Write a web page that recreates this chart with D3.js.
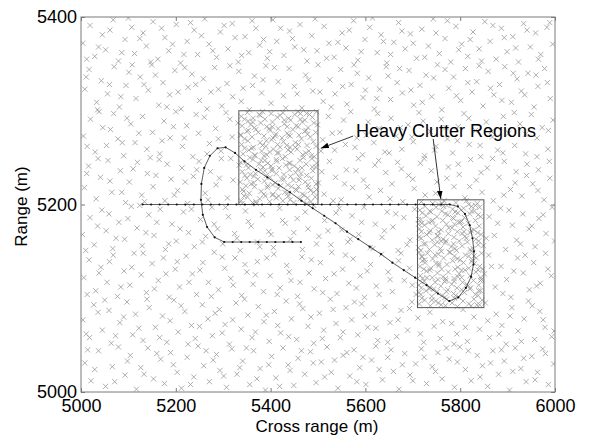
<!DOCTYPE html>
<html>
<head>
<meta charset="utf-8">
<script src="https://cdnjs.cloudflare.com/ajax/libs/d3/7.8.5/d3.min.js"></script>
<style>
body { margin: 0; background: #fff; }
text { font-family: Arial, "Liberation Sans", sans-serif; }
</style>
</head>
<body>
<svg id="chart"></svg>
<script>
// CHART DATA

const xTicks = [5000, 5200, 5400, 5600, 5800, 6000];
const yTicks = [5000, 5200, 5400];
const xLabel = 'Cross range (m)';
const yLabel = 'Range (m)';
const noteText = 'Heavy Clutter Regions';

// heavy clutter regions: [xmin, xmax, ymin, ymax]
const regions = [[5333, 5500, 5200, 5300], [5710, 5850, 5090, 5205]];

// annotation: text anchor and arrow tails/tips [x, y] in metres
const notePos = [5580, 5272];
const arrowTails = [[5574, 5273], [5743, 5270]];
const arrowTips = [[5506, 5260], [5759, 5206]];

// target track (sampled positions)
const trackX = [5130,5148,5166,5184,5202,5220,5238,5256,5274,5292,5310,5328,5346,5364,5382,5400,5418,5436,5454,5472,5490,5508,5526,5544,5562,5580,5598,5616,5634,5652,5670,5688,5706,5724,5742,5760,5778,
  5795,5810,5820,5826,5829,5828,5823,5812,5796,5777,
  5753,5729,5705,5681,5657,5633,5609,5585,5561,5537,5513,5489,5465,5441,5417,5393,5369,5345,
  5325,5305,5288,5272,5260,5254,5253,5257,5266,5282,5302,
  5320,5338,5356,5374,5392,5410,5428,5446,5464];
const trackY = [5200,5200,5200,5200,5200,5200,5200,5200,5200,5200,5200,5200,5200,5200,5200,5200,5200,5200,5200,5200,5200,5200,5200,5200,5200,5200,5200,5200,5200,5200,5200,5200,5200,5200,5200,5200,5200,
  5198,5190,5178,5164,5150,5136,5123,5111,5101,5097,
  5105,5114,5122,5130,5138,5147,5155,5163,5171,5180,5188,5196,5204,5213,5221,5229,5237,5246,
  5255,5261,5260,5252,5239,5222,5205,5189,5176,5165,5160,
  5160,5160,5160,5160,5160,5160,5160,5160,5160];

// background clutter detections [x, y]
const clutterBg = [
[5008,5031],[5021,5012],[5037,5044],[5052,5006],[5066,5027],[5079,5048],[5093,5018],[5104,5039],[5117,5003],[5126,5026],[5141,5047],[5153,5014],[5168,5035],[5176,5009],[5189,5042],[5203,5021],[5212,5004],[5224,5037],[5238,5016],[5247,5049],[5259,5028],[5271,5011],[5286,5040],[5293,5023],[5307,5005],[5318,5046],[5329,5019],[5341,5033],[5356,5008],[5364,5044],[5378,5025],[5389,5002],[5402,5038],[5411,5015],[5426,5047],[5437,5029],[5449,5007],[5458,5036],[5472,5019],[5484,5043],[5496,5010],[5507,5032],[5519,5048],[5528,5021],[5542,5004],[5553,5039],[5567,5017],[5576,5045],[5588,5026],[5601,5008],[5613,5034],[5622,5049],[5636,5013],[5647,5037],[5659,5022],[5671,5003],[5683,5041],[5694,5018],[5706,5030],[5718,5046],[5729,5009],[5741,5027],[5753,5042],[5762,5014],[5777,5035],[5788,5005],[5799,5048],[5811,5024],[5823,5012],[5836,5039],[5847,5028],[5858,5006],[5869,5044],[5881,5019],[5893,5033],[5904,5002],[5916,5047],[5928,5025],[5939,5011],[5951,5038],[5963,5021],[5974,5046],[5986,5008],[5997,5030],
[5014,5045],[5029,5024],[5071,5011],[5098,5033],[5133,5019],[5160,5041],[5195,5029],[5231,5008],[5264,5044],[5279,5034],[5301,5017],[5335,5026],[5349,5047],[5371,5014],[5396,5029],[5419,5006],[5441,5023],[5465,5044],[5490,5031],[5514,5016],[5535,5034],[5561,5042],[5582,5011],[5595,5037],[5629,5024],[5654,5045],[5678,5029],[5700,5012],[5724,5037],[5748,5022],[5771,5047],[5794,5032],[5817,5044],[5842,5016],[5864,5031],[5887,5045],[5911,5022],[5934,5036],[5958,5013],[5980,5041],
[5004,5077],[5018,5058],[5027,5093],[5045,5066],[5059,5087],[5064,5052],[5082,5074],[5097,5096],[5109,5061],[5115,5083],[5131,5055],[5144,5090],[5157,5069],[5172,5081],[5181,5053],[5196,5098],[5205,5064],[5219,5086],[5233,5071],[5241,5057],[5256,5093],[5268,5078],[5277,5060],[5292,5088],[5304,5072],[5313,5051],[5327,5095],[5338,5067],[5352,5082],[5361,5058],[5374,5091],[5386,5075],[5397,5054],[5408,5086],[5421,5063],[5433,5097],[5444,5078],[5455,5056],[5468,5089],[5479,5070],[5491,5052],[5503,5084],[5512,5066],[5526,5099],[5538,5073],[5547,5058],[5559,5090],[5571,5077],[5584,5061],[5592,5094],[5605,5069],[5617,5083],[5626,5055],[5641,5091],[5652,5074],[5666,5059],[5675,5087],[5689,5066],[5698,5096],[5711,5079],[5723,5053],[5736,5085],[5745,5070],[5758,5057],[5769,5092],[5782,5073],[5793,5062],[5806,5088],[5815,5054],[5829,5080],[5841,5067],[5853,5095],[5862,5058],[5876,5083],[5888,5071],[5897,5051],[5909,5090],[5922,5065],[5935,5078],[5944,5097],[5957,5056],[5968,5086],[5979,5069],[5993,5059],
[5011,5062],[5036,5085],[5050,5098],[5073,5060],[5090,5080],[5122,5068],[5139,5099],[5166,5058],[5188,5076],[5211,5092],[5226,5051],[5250,5070],[5283,5084],[5298,5063],[5320,5077],[5345,5099],[5368,5064],[5391,5082],[5415,5071],[5438,5059],[5461,5094],[5485,5080],[5509,5057],[5532,5088],[5553,5064],[5577,5096],[5599,5081],[5622,5068],[5647,5053],[5669,5077],[5693,5089],[5716,5062],[5740,5098],[5763,5075],[5787,5051],[5811,5069],[5835,5093],[5858,5076],[5882,5062],[5905,5081],[5929,5054],[5952,5092],[5975,5077],[5998,5065],
[5006,5122],[5017,5141],[5031,5108],[5042,5133],[5055,5117],[5068,5146],[5077,5102],[5091,5129],[5103,5114],[5112,5148],[5127,5125],[5138,5106],[5150,5137],[5163,5119],[5174,5143],[5186,5101],[5199,5131],[5208,5112],[5222,5145],[5235,5126],[5244,5104],[5257,5138],[5269,5117],[5281,5149],[5290,5109],[5303,5132],[5316,5121],[5325,5143],[5339,5103],[5350,5128],[5363,5115],[5372,5139],[5385,5107],[5399,5124],[5407,5147],[5420,5111],[5434,5135],[5443,5119],[5457,5102],[5466,5144],[5481,5127],[5492,5110],[5505,5138],[5516,5121],[5529,5149],[5540,5105],[5552,5131],[5565,5116],[5574,5142],[5589,5124],[5598,5101],[5611,5136],[5623,5113],[5634,5147],[5648,5128],[5657,5107],[5670,5140],[5682,5119],[5693,5132],[5707,5104],[5719,5145],[5730,5122],[5744,5110],[5755,5137],[5767,5118],[5779,5149],[5790,5103],[5803,5130],[5814,5115],[5826,5141],[5839,5108],[5851,5126],[5860,5146],[5874,5112],[5886,5134],[5898,5120],[5907,5101],[5921,5143],[5933,5127],[5946,5109],[5955,5138],[5969,5116],[5980,5148],[5992,5124],
[5013,5104],[5038,5127],[5060,5139],[5084,5112],[5107,5133],[5131,5148],[5155,5110],[5179,5126],[5203,5139],[5228,5117],[5251,5130],[5275,5102],[5298,5144],[5321,5114],[5346,5136],[5368,5125],[5392,5143],[5414,5104],[5439,5128],[5462,5117],[5486,5141],[5510,5106],[5534,5126],[5558,5146],[5581,5111],[5604,5129],[5629,5104],[5652,5120],[5675,5148],[5699,5114],[5723,5131],[5747,5146],[5771,5107],[5795,5123],[5818,5145],[5843,5119],[5866,5134],[5890,5105],[5913,5129],[5937,5146],[5961,5113],[5985,5131],
[5003,5168],[5019,5186],[5028,5157],[5044,5194],[5053,5172],[5067,5153],[5080,5181],[5092,5163],[5106,5198],[5118,5175],[5129,5156],[5143,5189],[5154,5167],[5167,5195],[5178,5152],[5192,5179],[5201,5161],[5216,5192],[5227,5170],[5239,5155],[5252,5184],[5263,5166],[5276,5197],[5288,5174],[5299,5158],[5311,5187],[5324,5169],[5336,5151],[5347,5193],[5359,5177],[5372,5160],[5383,5189],[5396,5171],[5406,5154],[5419,5196],[5431,5180],[5442,5163],[5456,5185],[5467,5152],[5479,5174],[5491,5199],[5502,5166],[5514,5183],[5527,5157],[5538,5191],[5550,5173],[5563,5160],[5572,5188],[5586,5168],[5597,5197],[5610,5154],[5621,5179],[5635,5165],[5646,5192],[5658,5176],[5669,5151],[5681,5186],[5694,5162],[5704,5195],[5718,5171],[5727,5158],[5742,5183],[5753,5166],[5765,5198],[5776,5175],[5789,5153],[5800,5181],[5813,5164],[5824,5193],[5837,5170],[5849,5156],[5861,5187],[5872,5167],[5885,5196],[5896,5152],[5910,5178],[5919,5162],[5932,5190],[5945,5174],[5958,5155],[5966,5185],[5981,5169],[5994,5197],
[5010,5151],[5035,5177],[5059,5190],[5074,5164],[5099,5185],[5124,5199],[5137,5170],[5160,5181],[5185,5158],[5209,5174],[5233,5195],[5256,5160],[5281,5179],[5305,5197],[5329,5164],[5353,5182],[5377,5155],[5401,5168],[5425,5183],[5449,5170],[5473,5192],[5497,5158],[5521,5172],[5545,5196],[5568,5163],[5592,5181],[5616,5153],[5640,5172],[5664,5190],[5688,5157],[5712,5179],[5736,5193],[5760,5161],[5784,5186],[5808,5171],[5832,5199],[5855,5164],[5879,5180],[5903,5194],[5927,5158],[5951,5177],[5975,5189],[5999,5161],
[5007,5218],[5016,5241],[5032,5206],[5041,5229],[5057,5247],[5065,5213],[5083,5236],[5094,5202],[5102,5224],[5119,5245],[5128,5210],[5140,5233],[5152,5219],[5165,5248],[5177,5204],[5190,5227],[5204,5215],[5213,5239],[5225,5201],[5237,5230],[5249,5246],[5262,5212],[5273,5235],[5285,5221],[5296,5249],[5309,5207],[5321,5226],[5334,5242],[5343,5214],[5357,5232],[5369,5203],[5380,5247],[5394,5220],[5403,5238],[5417,5209],[5428,5227],[5441,5244],[5453,5216],[5464,5233],[5477,5201],[5488,5240],[5501,5223],[5513,5211],[5524,5246],[5537,5229],[5549,5205],[5560,5237],[5573,5218],[5585,5249],[5596,5226],[5608,5208],[5620,5242],[5632,5215],[5643,5234],[5656,5222],[5668,5245],[5679,5203],[5691,5231],[5703,5217],[5716,5244],[5726,5210],[5739,5236],[5751,5224],[5762,5201],[5775,5240],[5787,5219],[5798,5232],[5810,5207],[5822,5248],[5834,5226],[5846,5213],[5857,5239],[5870,5204],[5882,5229],[5893,5246],[5906,5216],[5918,5235],[5930,5209],[5941,5243],[5953,5222],[5965,5237],[5977,5205],[5989,5228],
[5012,5233],[5036,5249],[5061,5225],[5086,5213],[5110,5238],[5134,5203],[5158,5231],[5182,5243],[5197,5210],[5220,5224],[5244,5237],[5268,5205],[5292,5228],[5316,5249],[5340,5201],[5364,5223],[5388,5236],[5412,5248],[5436,5212],[5460,5226],[5484,5215],[5508,5235],[5532,5204],[5556,5222],[5580,5236],[5604,5219],[5628,5247],[5652,5206],[5676,5238],[5700,5227],[5724,5249],[5748,5212],[5772,5228],[5796,5243],[5820,5219],[5844,5234],[5868,5249],[5892,5210],[5916,5223],[5940,5231],[5964,5215],[5988,5246],
[5005,5273],[5020,5291],[5030,5256],[5046,5282],[5054,5263],[5069,5297],[5078,5270],[5090,5252],[5105,5286],[5114,5266],[5130,5294],[5139,5259],[5151,5277],[5166,5254],[5175,5289],[5188,5271],[5200,5299],[5214,5262],[5223,5284],[5236,5251],[5248,5276],[5260,5293],[5271,5265],[5284,5281],[5295,5257],[5306,5298],[5319,5272],[5331,5287],[5345,5260],[5353,5279],[5367,5253],[5378,5295],[5391,5268],[5404,5283],[5414,5255],[5429,5290],[5438,5274],[5452,5261],[5463,5297],[5475,5279],[5486,5252],[5499,5285],[5510,5269],[5522,5294],[5535,5258],[5546,5277],[5558,5264],[5569,5299],[5582,5271],[5594,5253],[5606,5288],[5618,5266],[5629,5281],[5641,5256],[5654,5292],[5665,5273],[5677,5259],[5690,5285],[5701,5267],[5713,5298],[5725,5252],[5737,5278],[5749,5262],[5760,5291],[5773,5270],[5784,5255],[5796,5283],[5808,5297],[5819,5264],[5832,5279],[5843,5251],[5855,5288],[5868,5272],[5879,5258],[5891,5294],[5902,5276],[5915,5263],[5926,5286],[5938,5254],[5950,5296],[5962,5271],[5973,5282],[5985,5259],[5996,5290],
[5013,5262],[5038,5299],[5062,5280],[5087,5266],[5097,5292],[5122,5276],[5146,5250],[5171,5268],[5195,5283],[5218,5271],[5243,5296],[5266,5254],[5290,5270],[5314,5291],[5338,5274],[5362,5288],[5386,5252],[5410,5273],[5434,5263],[5458,5283],[5482,5296],[5506,5257],[5530,5276],[5554,5290],[5578,5261],[5602,5274],[5626,5297],[5650,5255],[5674,5282],[5698,5272],[5722,5289],[5746,5258],[5770,5282],[5794,5268],[5818,5292],[5842,5263],[5866,5278],[5890,5255],[5914,5298],[5938,5275],[5962,5251],[5986,5279],
[5008,5323],[5017,5344],[5033,5309],[5043,5332],[5056,5318],[5070,5347],[5081,5304],[5095,5327],[5101,5341],[5116,5313],[5125,5336],[5142,5322],[5149,5349],[5164,5306],[5173,5330],[5187,5317],[5198,5343],[5211,5302],[5226,5325],[5234,5339],[5250,5311],[5258,5334],[5274,5320],[5282,5346],[5297,5305],[5308,5329],[5320,5315],[5333,5342],[5342,5324],[5355,5301],[5366,5337],[5381,5319],[5390,5348],[5401,5308],[5416,5331],[5427,5316],[5439,5345],[5450,5326],[5466,5303],[5474,5338],[5489,5321],[5500,5349],[5511,5310],[5525,5333],[5536,5318],[5548,5344],[5561,5307],[5570,5328],[5583,5340],[5595,5314],[5607,5335],[5619,5302],[5630,5323],[5644,5347],[5653,5312],[5667,5330],[5678,5319],[5692,5343],[5702,5306],[5715,5327],[5728,5338],[5740,5315],[5752,5349],[5761,5301],[5776,5324],[5786,5336],[5801,5311],[5811,5345],[5825,5320],[5835,5331],[5848,5305],[5859,5342],[5871,5317],[5883,5328],[5894,5347],[5908,5309],[5920,5334],[5929,5321],[5943,5340],[5956,5304],[5964,5326],[5978,5345],[5990,5313],
[5011,5336],[5035,5301],[5060,5328],[5084,5315],[5108,5349],[5133,5328],[5157,5338],[5181,5304],[5205,5320],[5219,5346],[5242,5328],[5266,5302],[5290,5323],[5314,5348],[5338,5310],[5362,5327],[5384,5333],[5408,5346],[5432,5303],[5456,5318],[5480,5333],[5504,5320],[5528,5304],[5552,5326],[5576,5349],[5600,5322],[5624,5313],[5648,5337],[5672,5345],[5696,5322],[5720,5309],[5744,5335],[5768,5344],[5792,5316],[5816,5330],[5840,5348],[5864,5324],[5888,5311],[5912,5340],[5936,5317],[5960,5338],[5984,5330],
[5004,5372],[5019,5391],[5029,5358],[5045,5381],[5052,5365],[5068,5397],[5079,5353],[5093,5376],[5107,5389],[5113,5361],[5131,5383],[5138,5369],[5152,5395],[5162,5355],[5177,5378],[5185,5364],[5201,5392],[5210,5351],[5224,5374],[5239,5386],[5246,5360],[5261,5398],[5270,5371],[5286,5357],[5294,5384],[5310,5366],[5319,5393],[5332,5352],[5346,5379],[5354,5362],[5369,5388],[5377,5370],[5393,5356],[5405,5397],[5413,5374],[5428,5359],[5440,5385],[5451,5368],[5462,5392],[5477,5353],[5487,5380],[5498,5364],[5513,5390],[5523,5372],[5534,5357],[5551,5383],[5559,5367],[5575,5396],[5584,5354],[5599,5376],[5609,5389],[5625,5362],[5633,5381],[5645,5351],[5660,5373],[5670,5394],[5684,5366],[5695,5382],[5708,5356],[5719,5387],[5733,5369],[5743,5398],[5756,5361],[5768,5377],[5780,5352],[5791,5390],[5803,5371],[5816,5358],[5827,5384],[5840,5366],[5852,5395],[5863,5374],[5876,5355],[5887,5388],[5899,5363],[5911,5379],[5923,5352],[5934,5393],[5948,5368],[5959,5383],[5970,5360],[5983,5389],[5995,5371],
[5012,5355],[5037,5368],[5061,5386],[5086,5362],[5100,5399],[5124,5377],[5147,5352],[5170,5388],[5193,5371],[5217,5360],[5231,5394],[5254,5380],[5278,5364],[5302,5391],[5325,5378],[5339,5359],[5361,5396],[5385,5376],[5398,5363],[5421,5388],[5446,5377],[5470,5365],[5494,5398],[5518,5356],[5542,5373],[5566,5386],[5591,5363],[5615,5399],[5638,5374],[5653,5360],[5677,5385],[5701,5372],[5725,5357],[5749,5383],[5773,5396],[5797,5365],[5821,5376],[5845,5353],[5869,5391],[5893,5378],[5917,5367],[5941,5386],[5965,5355],[5989,5394]
];

// extra detections inside the first heavy clutter region
const clutterBox1 = [
[5338,5204],[5351,5208],[5362,5202],[5377,5206],[5389,5209],[5398,5203],[5412,5207],[5426,5204],[5437,5209],[5449,5202],[5463,5206],[5471,5210],[5485,5203],[5494,5208],[5344,5209],[5370,5201],[5404,5210],[5441,5205],[5478,5207],
[5341,5216],[5355,5212],[5366,5219],[5380,5214],[5393,5218],[5405,5211],[5416,5217],[5430,5213],[5444,5219],[5455,5215],[5467,5211],[5480,5218],[5491,5213],[5348,5220],[5386,5211],[5421,5220],[5459,5219],[5497,5216],
[5336,5224],[5350,5228],[5359,5222],[5373,5227],[5387,5225],[5399,5229],[5410,5223],[5423,5227],[5436,5221],[5448,5226],[5461,5229],[5473,5224],[5486,5228],[5496,5222],[5365,5230],[5404,5221],[5442,5230],[5479,5221],
[5340,5235],[5353,5239],[5368,5233],[5379,5237],[5391,5231],[5403,5236],[5418,5239],[5428,5232],[5440,5237],[5453,5234],[5466,5239],[5476,5231],[5489,5236],[5346,5231],[5384,5240],[5412,5233],[5458,5238],[5495,5240],
[5337,5245],[5349,5242],[5363,5248],[5375,5243],[5388,5247],[5401,5241],[5413,5246],[5425,5249],[5439,5244],[5450,5241],[5462,5247],[5475,5243],[5487,5249],[5497,5244],[5356,5250],[5394,5244],[5432,5242],[5469,5250],
[5342,5254],[5354,5258],[5367,5252],[5381,5257],[5392,5253],[5406,5259],[5417,5255],[5431,5251],[5443,5256],[5456,5259],[5468,5253],[5481,5257],[5492,5251],[5360,5260],[5398,5256],[5437,5258],[5474,5255],
[5339,5264],[5352,5268],[5364,5261],[5378,5266],[5390,5262],[5402,5269],[5415,5264],[5427,5267],[5441,5261],[5452,5266],[5465,5270],[5477,5263],[5490,5267],[5345,5270],[5383,5263],[5420,5261],[5459,5264],[5496,5262],
[5336,5274],[5350,5278],[5361,5272],[5374,5277],[5386,5273],[5399,5279],[5411,5275],[5424,5271],[5435,5276],[5447,5280],[5460,5274],[5472,5278],[5484,5272],[5495,5277],[5369,5280],[5405,5271],[5441,5273],[5478,5275],
[5340,5284],[5353,5289],[5366,5282],[5379,5287],[5392,5283],[5404,5288],[5416,5281],[5429,5286],[5442,5290],[5454,5284],[5467,5288],[5479,5282],[5491,5287],[5358,5285],[5397,5281],[5435,5283],[5472,5290],
[5338,5294],[5351,5298],[5363,5292],[5376,5296],[5388,5291],[5401,5297],[5414,5293],[5426,5298],[5438,5292],[5451,5296],[5463,5291],[5476,5297],[5488,5293],[5497,5299],[5345,5291],[5383,5299],[5420,5295],[5458,5299]
];

// extra detections inside the second heavy clutter region
const clutterBox2 = [
[5714,5094],[5725,5098],[5737,5092],[5748,5097],[5760,5093],[5771,5099],[5783,5095],[5794,5091],[5806,5097],[5818,5094],[5829,5099],[5841,5093],[5719,5100],[5754,5095],[5788,5100],[5823,5092],[5846,5098],
[5717,5104],[5728,5108],[5740,5102],[5751,5107],[5762,5103],[5774,5109],[5786,5105],[5797,5101],[5809,5106],[5820,5110],[5832,5104],[5843,5108],[5735,5110],[5768,5101],[5803,5109],[5838,5103],[5713,5106],
[5713,5114],[5724,5118],[5736,5112],[5747,5117],[5759,5113],[5770,5119],[5782,5115],[5793,5111],[5805,5117],[5816,5113],[5828,5119],[5839,5114],[5718,5111],[5753,5120],[5787,5118],[5822,5111],[5845,5120],
[5716,5124],[5729,5129],[5741,5122],[5752,5127],[5764,5123],[5775,5128],[5787,5121],[5798,5126],[5810,5130],[5821,5124],[5833,5128],[5844,5122],[5736,5130],[5769,5121],[5803,5122],[5838,5130],[5721,5121],
[5715,5134],[5726,5138],[5738,5132],[5749,5137],[5761,5131],[5772,5136],[5784,5140],[5795,5133],[5807,5138],[5818,5132],[5830,5137],[5841,5134],[5720,5140],[5755,5135],[5789,5131],[5824,5139],[5847,5131],
[5719,5144],[5731,5148],[5742,5142],[5754,5147],[5765,5143],[5777,5149],[5788,5145],[5800,5141],[5811,5146],[5823,5150],[5834,5143],[5845,5148],[5725,5141],[5760,5150],[5794,5142],[5829,5145],[5713,5149],
[5712,5154],[5723,5158],[5735,5152],[5746,5157],[5758,5153],[5769,5159],[5781,5155],[5792,5151],[5804,5156],[5815,5160],[5827,5153],[5838,5157],[5717,5151],[5752,5160],[5786,5158],[5821,5152],
[5718,5164],[5729,5168],[5741,5162],[5752,5167],[5764,5163],[5775,5169],[5787,5165],[5798,5161],[5810,5166],[5821,5170],[5833,5163],[5844,5168],[5735,5170],[5770,5161],[5804,5169],[5839,5161],[5713,5165],
[5714,5174],[5725,5178],[5737,5172],[5748,5177],[5760,5173],[5771,5179],[5783,5175],[5794,5171],[5806,5176],[5817,5180],[5829,5173],[5840,5177],[5719,5180],[5754,5171],[5788,5179],[5823,5172],
[5717,5184],[5728,5188],[5740,5182],[5751,5187],[5763,5183],[5774,5189],[5786,5185],[5797,5181],[5809,5186],[5820,5190],[5832,5183],[5843,5187],[5734,5181],[5769,5190],[5803,5182],[5838,5189],[5712,5184],
[5715,5194],[5726,5198],[5738,5192],[5749,5197],[5761,5193],[5772,5199],[5784,5195],[5795,5191],[5807,5196],[5818,5200],[5830,5193],[5841,5197],[5720,5191],[5755,5200],[5789,5192],[5824,5198],
[5718,5203],[5742,5201],[5766,5204],[5791,5202],[5813,5204],[5836,5201]
];

// SET UP SVG AND SCALES

const width = 591;
const height = 436;
const plot = {left: 81, right: 555, top: 17, bottom: 392};

const svg = d3.select('#chart')
    .attr('width', width)
    .attr('height', height);

const x = d3.scaleLinear().domain([5000, 6000]).range([plot.left, plot.right]);
const y = d3.scaleLinear().domain([5000, 5400]).range([plot.bottom, plot.top]);

svg.append('clipPath').attr('id', 'plotClip')
  .append('rect')
    .attr('x', plot.left).attr('y', plot.top)
    .attr('width', plot.right - plot.left)
    .attr('height', plot.bottom - plot.top);

const plotArea = svg.append('g').attr('clip-path', 'url(#plotClip)');

// CLUTTER MARKERS (x symbols)

const xMark = 'M-2.6,-2.6L2.6,2.6M-2.6,2.6L2.6,-2.6';
const allClutter = clutterBg.concat(clutterBox1, clutterBox2);

plotArea.append('g')
  .selectAll('path')
  .data(allClutter)
  .join('path')
    .attr('d', xMark)
    .attr('transform', d => `translate(${x(d[0])},${y(d[1])})`)
    .attr('fill', 'none')
    .attr('stroke', '#9a9a9a')
    .attr('stroke-width', 0.8);

// HEAVY CLUTTER REGION BOXES

plotArea.append('g')
  .selectAll('rect')
  .data(regions)
  .join('rect')
    .attr('x', d => x(d[0]))
    .attr('y', d => y(d[3]))
    .attr('width', d => x(d[1]) - x(d[0]))
    .attr('height', d => y(d[2]) - y(d[3]))
    .attr('fill', 'none')
    .attr('stroke', '#555')
    .attr('stroke-width', 1);

// TARGET TRACK

const track = trackX.map((v, i) => [v, trackY[i]]);

plotArea.append('path')
    .datum(track)
    .attr('d', d3.line().x(d => x(d[0])).y(d => y(d[1])))
    .attr('fill', 'none')
    .attr('stroke', '#333')
    .attr('stroke-width', 0.8);

plotArea.append('g')
  .selectAll('circle')
  .data(track)
  .join('circle')
    .attr('cx', d => x(d[0]))
    .attr('cy', d => y(d[1]))
    .attr('r', 1.1)
    .attr('fill', '#111');

// AXES (inward ticks on all four sides, matlab style)

svg.append('rect')
    .attr('x', plot.left).attr('y', plot.top)
    .attr('width', plot.right - plot.left)
    .attr('height', plot.bottom - plot.top)
    .attr('fill', 'none')
    .attr('stroke', '#7a7a7a')
    .attr('stroke-width', 1);

function styleAxis(g) {
    g.select('.domain').remove();
    g.selectAll('.tick line').attr('stroke', '#7a7a7a');
    g.selectAll('.tick text').attr('fill', '#000').style('font-size', '18px');
}

svg.append('g')
    .attr('transform', `translate(0,${plot.bottom})`)
    .call(d3.axisBottom(x).tickValues(xTicks).tickSizeInner(-4).tickSizeOuter(0).tickPadding(7).tickFormat(d3.format('d')))
    .call(styleAxis);

svg.append('g')
    .attr('transform', `translate(0,${plot.top})`)
    .call(d3.axisTop(x).tickValues(xTicks).tickSizeInner(-4).tickSizeOuter(0).tickFormat(''))
    .call(styleAxis);

svg.append('g')
    .attr('transform', `translate(${plot.left},0)`)
    .call(d3.axisLeft(y).tickValues(yTicks).tickSizeInner(-4).tickSizeOuter(0).tickPadding(4).tickFormat(d3.format('d')))
    .call(styleAxis);

svg.append('g')
    .attr('transform', `translate(${plot.right},0)`)
    .call(d3.axisRight(y).tickValues(yTicks).tickSizeInner(-4).tickSizeOuter(0).tickFormat(''))
    .call(styleAxis);

// AXIS TITLES

svg.append('text')
    .attr('x', (plot.left + plot.right) / 2 - 1)
    .attr('y', 432)
    .attr('text-anchor', 'middle')
    .style('font-size', '17px')
    .text(xLabel);

svg.append('text')
    .attr('transform', `translate(27,${(plot.top + plot.bottom) / 2 + 2}) rotate(-90)`)
    .attr('text-anchor', 'middle')
    .style('font-size', '17px')
    .text(yLabel);

// ANNOTATION WITH ARROWS

svg.append('defs').append('marker')
    .attr('id', 'arrowHead')
    .attr('viewBox', '0 0 10 10')
    .attr('refX', 10).attr('refY', 5)
    .attr('markerWidth', 8).attr('markerHeight', 8)
    .attr('markerUnits', 'userSpaceOnUse')
    .attr('orient', 'auto')
  .append('path')
    .attr('d', 'M0,1.5L10,5L0,8.5Z')
    .attr('fill', '#000');

svg.append('g')
  .selectAll('line')
  .data(arrowTails)
  .join('line')
    .attr('x1', d => x(d[0]))
    .attr('y1', d => y(d[1]))
    .attr('x2', (d, i) => x(arrowTips[i][0]))
    .attr('y2', (d, i) => y(arrowTips[i][1]))
    .attr('stroke', '#000')
    .attr('stroke-width', 0.8)
    .attr('marker-end', 'url(#arrowHead)');

svg.append('text')
    .attr('x', x(notePos[0]))
    .attr('y', y(notePos[1]))
    .style('font-size', '18px')
    .text(noteText);

</script>
</body>
</html>
